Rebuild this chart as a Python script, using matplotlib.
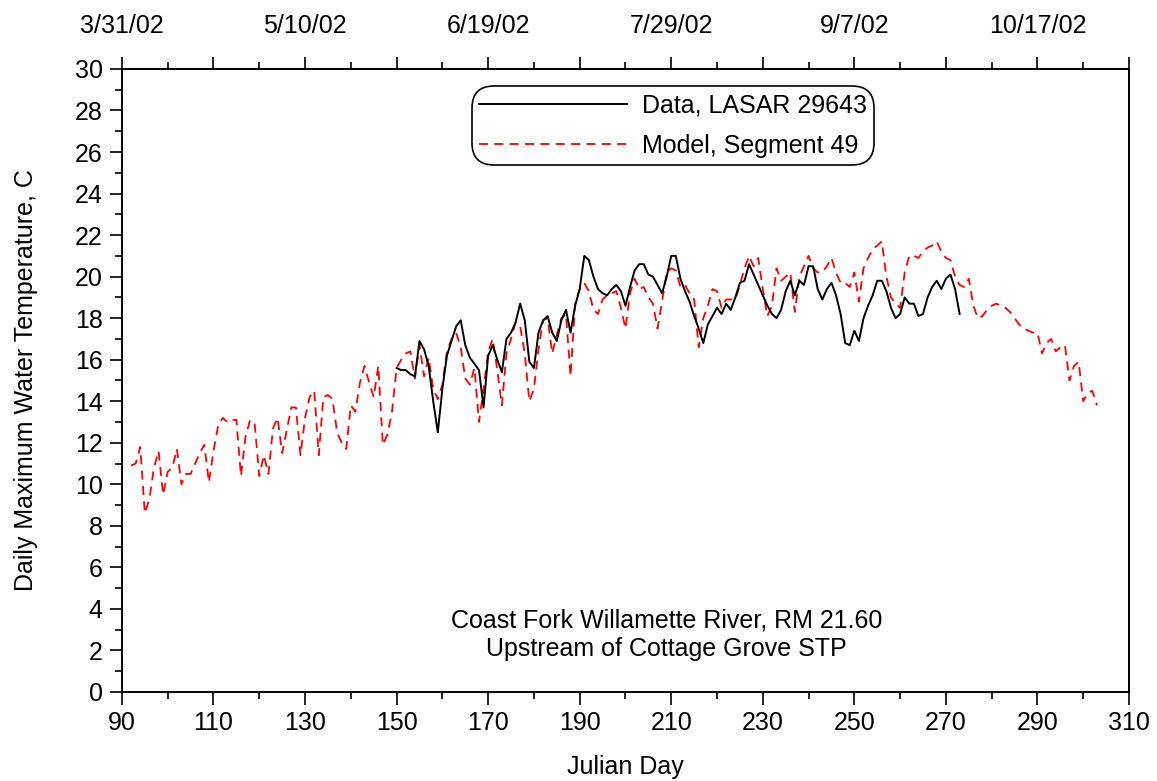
import numpy as np
import matplotlib
matplotlib.use("Agg")
import matplotlib.pyplot as plt
from matplotlib.ticker import MultipleLocator, FixedLocator, FixedFormatter

plt.rcParams['font.family'] = ['Liberation Sans', 'DejaVu Sans']

# ---- data ----
model_start_day = 92
model_temp = [
    10.9, 11.0, 11.8, 8.6, 9.3, 10.8, 11.6, 9.5, 10.6, 10.8,          # 92-101
    11.7, 10.0, 10.5, 10.5, 11.0, 11.5, 11.9, 10.1, 11.6, 12.8,        # 102-111
    13.2, 13.0, 13.1, 13.1, 10.4, 12.3, 13.1, 12.9, 10.4, 11.4,        # 112-121
    10.5, 12.7, 13.2, 11.5, 12.6, 13.7, 13.7, 11.4, 13.2, 14.2,        # 122-131
    14.5, 11.4, 14.2, 14.3, 14.1, 12.5, 12.0, 11.7, 13.8, 13.5,        # 132-141
    14.9, 15.7, 14.9, 14.2, 15.7, 11.9, 12.4, 13.5, 15.6, 16.0,        # 142-151
    16.3, 16.4, 15.1, 16.7, 15.2, 16.1, 14.6, 14.1, 14.8, 16.4,        # 152-161
    17.0, 17.3, 16.6, 15.1, 14.8, 15.6, 13.0, 14.6, 16.4, 17.0,        # 162-171
    15.5, 13.8, 16.3, 17.0, 17.8, 17.6, 16.3, 14.0, 14.6, 16.5,        # 172-181
    17.9, 18.0, 16.3, 17.2, 18.0, 18.2, 15.2, 18.7, 19.4, 19.7,        # 182-191
    19.3, 18.4, 18.2, 18.9, 19.1, 19.2, 19.3, 18.5, 17.5, 19.2,        # 192-201
    19.9, 19.4, 19.5, 19.0, 18.7, 17.5, 18.8, 20.2, 20.4, 20.3,        # 202-211
    19.5, 19.6, 19.2, 18.9, 16.6, 18.0, 18.6, 19.4, 19.3, 18.5,        # 212-221
    18.9, 18.9, 18.9, 19.6, 20.4, 21.0, 20.5, 20.9, 19.4, 18.1,        # 222-231
    18.6, 20.4, 19.8, 20.0, 20.2, 18.3, 20.0, 20.5, 21.0, 20.4,        # 232-241
    20.2, 20.2, 20.5, 20.9, 20.2, 19.7, 19.7, 19.5, 20.2, 18.8,        # 242-251
    20.4, 20.9, 21.3, 21.5, 21.7, 20.0, 19.0, 18.7, 18.5, 20.2,        # 252-261
    21.0, 21.0, 20.9, 21.2, 21.4, 21.5, 21.7, 21.2, 20.9, 20.8,        # 262-271
    20.0, 19.6, 19.5, 19.9, 18.6, 18.0, 18.1, 18.4, 18.6, 18.7,        # 272-281
    18.6, 18.5, 18.3, 18.0, 17.7, 17.5, 17.4, 17.3, 17.3, 16.3,        # 282-291
    16.8, 17.0, 16.4, 16.6, 16.7, 15.0, 15.7, 15.9, 14.0, 14.4,        # 292-301
    14.5, 13.8,                                                        # 302-303
]
data_start_day = 150
data_temp = [
    15.6, 15.5, 15.5, 15.3, 15.2, 16.9, 16.5, 15.7, 14.0, 12.5,        # 150-159
    14.6, 16.2, 16.9, 17.6, 17.9, 16.7, 16.1, 15.8, 15.5, 13.7,        # 160-169
    16.2, 16.7, 16.0, 15.4, 17.0, 17.3, 17.8, 18.7, 17.9, 15.9,        # 170-179
    15.6, 17.3, 17.9, 18.1, 17.3, 16.9, 17.9, 18.4, 17.3, 18.6,        # 180-189
    19.4, 21.0, 20.8, 20.0, 19.4, 19.2, 19.1, 19.4, 19.6, 19.3,        # 190-199
    18.6, 19.5, 20.3, 20.6, 20.6, 20.1, 20.0, 19.6, 19.2, 20.0,        # 200-209
    21.0, 21.0, 19.9, 19.3, 18.8, 18.1, 17.5, 16.8, 17.7, 18.1,        # 210-219
    18.5, 18.2, 18.7, 18.4, 19.0, 19.7, 19.8, 20.6, 20.1, 19.6,        # 220-229
    19.1, 18.6, 18.2, 18.0, 18.4, 19.3, 19.8, 19.1, 19.8, 19.6,        # 230-239
    20.5, 20.5, 19.4, 18.9, 19.4, 19.7, 19.1, 18.2, 16.8, 16.7,        # 240-249
    17.4, 16.9, 18.0, 18.6, 19.1, 19.8, 19.8, 19.3, 18.5, 18.0,        # 250-259
    18.2, 19.0, 18.7, 18.7, 18.1, 18.2, 19.0, 19.5, 19.8, 19.4,        # 260-269
    19.9, 20.1, 19.4, 18.2,                                            # 270-273
]
top_tick_days = [90, 130, 170, 210, 250, 290]
top_tick_labels = ['3/31/02', '5/10/02', '6/19/02', '7/29/02', '9/7/02', '10/17/02']
series_labels = ['Data, LASAR 29643', 'Model, Segment 49']
site_text = ['Coast Fork Willamette River, RM 21.60', 'Upstream of Cottage Grove STP']

model_days = np.arange(model_start_day, model_start_day + len(model_temp))
data_days = np.arange(data_start_day, data_start_day + len(data_temp))

FS = 18

fig = plt.figure(figsize=(11.57, 7.81), dpi=100)
ax = fig.add_axes([0.1054, 0.1140, 0.8704, 0.7977])

ax.plot(data_days, data_temp, color='black', lw=1.4, label=series_labels[0], zorder=3)
ax.plot(model_days, model_temp, color='#ff0000', lw=1.3, linestyle=(0, (5, 3.5)),
        label=series_labels[1], zorder=2)

ax.set_xlim(90, 310)
ax.set_ylim(0, 30)
ax.xaxis.set_major_locator(FixedLocator(np.arange(90, 311, 20)))
ax.xaxis.set_minor_locator(MultipleLocator(10))
ax.yaxis.set_major_locator(MultipleLocator(2))
ax.yaxis.set_minor_locator(MultipleLocator(1))
ax.tick_params(axis='both', which='major', direction='out', length=9, width=1.2,
               labelsize=FS, pad=5)
ax.tick_params(axis='both', which='minor', direction='out', length=5, width=1.2)
ax.tick_params(top=False, right=False, which='both')
for s in ax.spines.values():
    s.set_linewidth(1.4)

ax.set_xlabel('Julian Day', fontsize=FS, labelpad=14)
ax.set_ylabel('Daily Maximum Water Temperature, C', fontsize=FS, labelpad=26)

# top date axis
sec = ax.secondary_xaxis('top')
major_top = np.arange(90, 311, 20)
sec.xaxis.set_major_locator(FixedLocator(major_top))
sec.xaxis.set_major_formatter(FixedFormatter(
    [top_tick_labels[top_tick_days.index(d)] if d in top_tick_days else '' for d in major_top]))
sec.xaxis.set_minor_locator(MultipleLocator(10))
sec.tick_params(which='major', direction='out', length=9, width=1.2, labelsize=FS, pad=13)
sec.tick_params(which='minor', direction='out', length=5, width=1.2)
sec.spines['top'].set_linewidth(1.4)

leg = ax.legend(loc='upper center', bbox_to_anchor=(0.547, 0.981), fontsize=FS,
                handlelength=5.9, handletextpad=0.6, borderpad=0.0,
                labelspacing=0.66, fancybox=True, edgecolor='black', framealpha=1)
leg.get_frame().set_linewidth(1.2)
leg.get_frame().set_boxstyle('round,pad=0.3,rounding_size=0.9')

ax.text(0.5405, 0.092, site_text[0] + '\n' + site_text[1], transform=ax.transAxes,
        ha='center', va='center', fontsize=FS, linespacing=1.2)

fig.savefig('out.png', dpi=100)
